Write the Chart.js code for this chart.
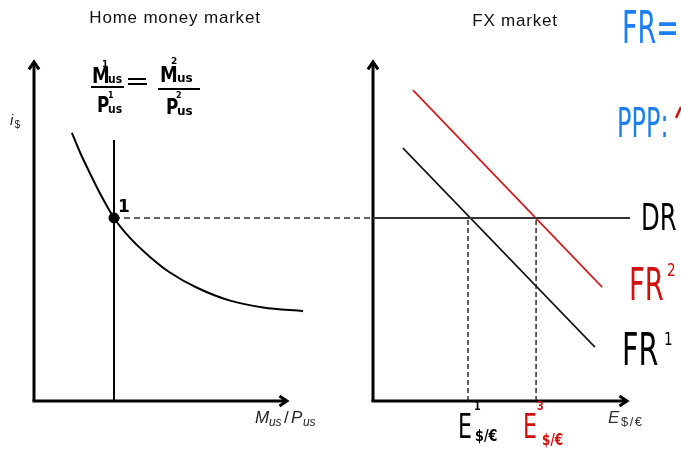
<!DOCTYPE html>
<html><head><meta charset="utf-8">
<script src="https://cdn.jsdelivr.net/npm/chart.js@4.4.0/dist/chart.umd.min.js"></script>
<style>html,body{margin:0;padding:0;background:#fff;}canvas{display:block;}</style>
</head><body>
<canvas id="c" width="681" height="450"></canvas>
<script>
// ---- Home money market (left panel): real money (M/P) vs interest rate i$ ----
const moneyDemandX = [1.48, 1.80, 2.19, 2.58, 3.125, 3.75, 4.53, 5.31, 6.37, 7.66, 8.95, 10.51];
const moneyDemandY = [7.91, 7.33, 6.71, 6.12, 5.40, 4.81, 4.25, 3.79, 3.34, 2.96, 2.76, 2.65];
const realMoneySupply = [3.125, 3.125];
const realMoneySupplyY = [0, 7.7];
const equilibrium1 = [3.125, 5.4];          // point "1": (M/P, i$)
// ---- FX market (right panel): E$/€ vs returns ----
const drX = [0, 10.04];
const drY = [5.4, 5.4];
const fr1X = [1.17, 8.67];
const fr1Y = [7.46, 1.59];
const fr2X = [1.56, 8.95];
const fr2Y = [9.17, 3.36];
const exchangeRates = [3.71, 6.37];        // E1, E3 where FR1, FR2 cross DR
// axis extents (data units)
const axisLen = { leftX: 9.88, rightX: 9.92, y: 10 };
const titles = ["Home money market", "FX market"];

const pts = (xs, ys) => xs.map((x, i) => ({ x, y: ys[i] }));

function txt(ctx, s, x, y, font, color, sx = 1, align = 'left') {
  ctx.save(); ctx.translate(x, y); ctx.scale(sx, 1);
  ctx.font = font; ctx.fillStyle = color; ctx.textAlign = align; ctx.textBaseline = 'alphabetic';
  ctx.fillText(s, 0, 0); ctx.restore();
}
function arrowLine(ctx, x1, y1, x2, y2) {
  ctx.beginPath(); ctx.moveTo(x1, y1); ctx.lineTo(x2, y2); ctx.stroke();
  const a = Math.atan2(y2 - y1, x2 - x1), L = 9, w = 0.6;
  ctx.beginPath();
  ctx.moveTo(x2 - L * Math.cos(a - w), y2 - L * Math.sin(a - w));
  ctx.lineTo(x2, y2);
  ctx.lineTo(x2 - L * Math.cos(a + w), y2 - L * Math.sin(a + w));
  ctx.stroke();
}

const diagramPlugin = {
  id: 'diagram',
  beforeDatasetsDraw(chart) {
    const { ctx, scales } = chart;
    const xL = scales.xL, xR = scales.xR, y = scales.y;
    ctx.save();
    // connector from point 1 to the FX axis
    ctx.strokeStyle = '#333'; ctx.lineWidth = 1.5; ctx.setLineDash([6, 4]);
    ctx.beginPath();
    ctx.moveTo(xL.getPixelForValue(equilibrium1[0]), y.getPixelForValue(equilibrium1[1]));
    ctx.lineTo(xR.getPixelForValue(0), y.getPixelForValue(equilibrium1[1]));
    ctx.stroke();
    ctx.setLineDash([]);
    // axes with arrows
    ctx.strokeStyle = '#000'; ctx.lineWidth = 3; ctx.lineCap = 'butt'; ctx.lineJoin = 'miter';
    const y0 = y.getPixelForValue(0), yT = y.getPixelForValue(axisLen.y);
    [[xL, axisLen.leftX], [xR, axisLen.rightX]].forEach(([sc, len]) => {
      const x0 = sc.getPixelForValue(0);
      arrowLine(ctx, x0, y0, x0, yT);
      arrowLine(ctx, x0 - 1.5, y0, sc.getPixelForValue(len), y0);
    });
    ctx.restore();
  },
  afterDraw(chart) {
    const { ctx, scales } = chart;
    const xL = scales.xL, xR = scales.xR, y = scales.y;
    const sans = '"Liberation Sans", Arial, sans-serif';
    ctx.save();
    ctx.letterSpacing = '0.8px';
    txt(ctx, titles[0], 175, 23, '17px ' + sans, '#111', 1, 'center');
    txt(ctx, titles[1], 515, 26, '17px ' + sans, '#111', 1, 'center');
    ctx.letterSpacing = '0px';
    // axis labels
    txt(ctx, 'i', 10, 125, 'italic 15px ' + sans, '#222');
    txt(ctx, '$', 14.5, 128, '10px ' + sans, '#222');
    const xa = xL.getPixelForValue(axisLen.leftX);
    txt(ctx, 'M', xa - 32, 423, 'italic 17px ' + sans, '#222');
    txt(ctx, 'us', xa - 18, 426, 'italic 12px ' + sans, '#222');
    txt(ctx, '/', xa - 3, 423, '17px ' + sans, '#222');
    txt(ctx, 'P', xa + 4, 423, 'italic 17px ' + sans, '#222');
    txt(ctx, 'us', xa + 16, 426, 'italic 12px ' + sans, '#222');
    const xb = xR.getPixelForValue(axisLen.rightX);
    txt(ctx, 'E', xb - 19, 423, 'italic 17px ' + sans, '#333');
    ctx.letterSpacing = '1.5px';
    txt(ctx, '$/€', xb - 6, 426, '13px ' + sans, '#333');
    ctx.letterSpacing = '0px';
    // hand-written labels
    const hw = '"DejaVu Sans", sans-serif';
    // fraction M1/P1 = M2/P2
    txt(ctx, 'M', 92, 83, 'bold 21px ' + hw, '#000', 0.85);
    txt(ctx, 'us', 108, 83, 'bold 12px ' + hw, '#000', 0.9);
    txt(ctx, '1', 102, 67, 'bold 9px ' + hw, '#000');
    txt(ctx, 'P', 97, 112, 'bold 21px ' + hw, '#000', 0.8);
    txt(ctx, 'us', 108, 113, 'bold 12px ' + hw, '#000', 0.9);
    txt(ctx, '1', 108, 98, 'bold 8px ' + hw, '#000');
    txt(ctx, 'M', 160, 82, 'bold 21px ' + hw, '#000', 0.85);
    txt(ctx, 'us', 177, 82, 'bold 12px ' + hw, '#000', 1.0);
    txt(ctx, '2', 171, 64, 'bold 9px ' + hw, '#000');
    txt(ctx, 'P', 166, 114, 'bold 21px ' + hw, '#000', 0.8);
    txt(ctx, 'us', 177, 115, 'bold 12px ' + hw, '#000', 1.0);
    txt(ctx, '2', 176, 98, 'bold 8px ' + hw, '#000');
    ctx.strokeStyle = '#000'; ctx.lineWidth = 2.2;
    ctx.beginPath(); ctx.moveTo(91, 87); ctx.lineTo(124, 87);
    ctx.moveTo(158, 89); ctx.lineTo(200, 89);
    ctx.moveTo(128, 79); ctx.lineTo(146, 79);
    ctx.moveTo(128, 84); ctx.lineTo(147, 84); ctx.stroke();
    // point label
    const px = xL.getPixelForValue(equilibrium1[0]), py = y.getPixelForValue(equilibrium1[1]);
    txt(ctx, '1', px + 4, py - 6, 'bold 17px ' + hw, '#000');
    // FX labels
    txt(ctx, 'DR', 641, 230, '38px ' + hw, '#000', 0.64);
    txt(ctx, 'FR', 629, 300, '44px ' + hw, '#d10f0f', 0.62);
    txt(ctx, '2', 667, 276, '17px ' + hw, '#d10f0f', 0.8);
    txt(ctx, 'FR', 622, 365, '44px ' + hw, '#000', 0.65);
    txt(ctx, '1', 664, 345, '17px ' + hw, '#000', 0.8);
    txt(ctx, 'FR=', 622, 43, '45px ' + hw, '#1a7ff0', 0.6);
    txt(ctx, 'PPP:', 617, 137, '40px ' + hw, '#1a7ff0', 0.6);
    ctx.strokeStyle = '#d10f0f'; ctx.lineWidth = 2.5;
    ctx.beginPath(); ctx.moveTo(676, 118); ctx.lineTo(681, 107); ctx.stroke();
    // exchange rate labels under dashed lines
    const e1 = xR.getPixelForValue(exchangeRates[0]), e3 = xR.getPixelForValue(exchangeRates[1]);
    txt(ctx, 'E', e1 - 10, 438, '34px ' + hw, '#000', 0.65);
    txt(ctx, '1', e1 + 6, 410, 'bold 12px ' + hw, '#000', 0.8);
    txt(ctx, '$/€', e1 + 7, 441, 'bold 16px ' + hw, '#000', 0.8);
    txt(ctx, 'E', e3 - 13, 438, '34px ' + hw, '#d10f0f', 0.65);
    txt(ctx, '3', e3 + 1, 410, 'bold 12px ' + hw, '#d10f0f', 0.8);
    txt(ctx, '$/€', e3 + 6, 445, 'bold 15px ' + hw, '#d10f0f', 0.8);
    ctx.restore();
  }
};

const line = (data, xAxisID, color, width, dash) => ({
  data, xAxisID, yAxisID: 'y', showLine: true, borderColor: color, borderWidth: width,
  borderDash: dash || [], pointRadius: 0, fill: false, tension: 0
});

new Chart(document.getElementById('c'), {
  type: 'scatter',
  data: {
    datasets: [
      Object.assign(line(pts(moneyDemandX, moneyDemandY), 'xL', '#000', 2), { cubicInterpolationMode: 'monotone' }),
      line(pts(realMoneySupply, realMoneySupplyY), 'xL', '#000', 2),
      { data: [{ x: equilibrium1[0], y: equilibrium1[1] }], xAxisID: 'xL', yAxisID: 'y',
        pointRadius: 5, backgroundColor: '#000', borderColor: '#000', showLine: false },
      line(pts(drX, drY), 'xR', '#333', 2),
      line(pts(fr1X, fr1Y), 'xR', '#111', 1.6),
      line(pts(fr2X, fr2Y), 'xR', '#d41414', 1.6),
      line(pts([exchangeRates[0], exchangeRates[0]], [0, drY[0]]), 'xR', '#222', 1.4, [5, 3]),
      line(pts([exchangeRates[1], exchangeRates[1]], [0, drY[0]]), 'xR', '#222', 1.4, [5, 3])
    ]
  },
  options: {
    responsive: false, animation: false, events: [],
    layout: { padding: { left: 34, right: 15, top: 62, bottom: 49 } },
    scales: {
      xL: { type: 'linear', display: false, min: 0, max: 24.6875 },
      xR: { type: 'linear', display: false, min: -13.242, max: 11.445 },
      y: { type: 'linear', display: false, min: 0, max: 10 }
    },
    plugins: { legend: { display: false }, tooltip: { enabled: false } }
  },
  plugins: [diagramPlugin]
});
</script>
</body></html>
